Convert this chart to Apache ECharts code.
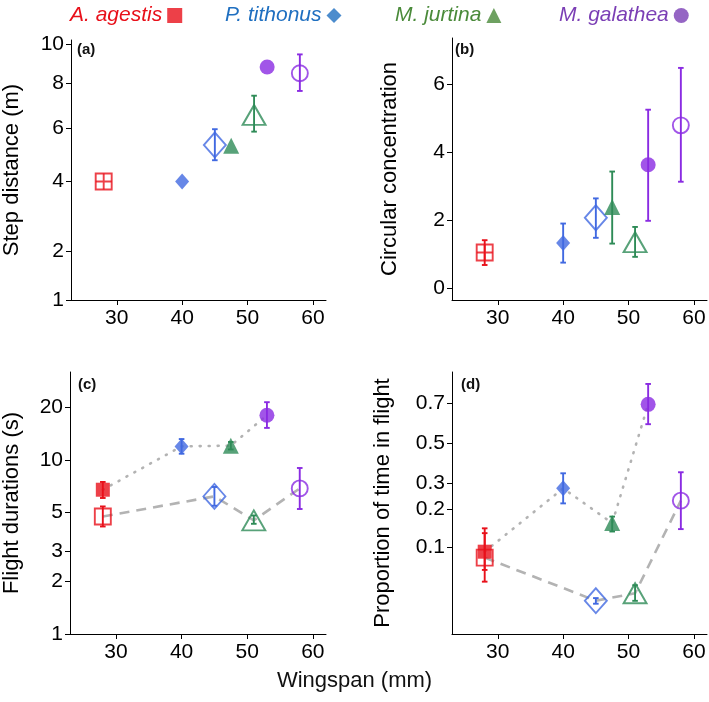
<!DOCTYPE html>
<html lang="en">
<head>
<meta charset="UTF-8">
<title>Wingspan vs movement</title>
<script src="https://cdn.jsdelivr.net/npm/echarts@6/dist/echarts.min.js"></script>
<style>
    html, body { margin: 0; padding: 0; background: #fff; }
    #main { width: 709px; height: 702px; }
</style>
</head>
<body>
<div id="main"></div>
<script>
var species = ['A. agestis', 'P. tithonus', 'M. jurtina', 'M. galathea'];
var markColors = ['#e8101a', '#4169e1', '#2e8b57', '#8a2be2'];
var legendColors = ['#e8101a', '#1f6fc0', '#4a8a3a', '#7b3fb5'];
var wingFilled = [28, 40, 47.5, 53];
var wingOpen = [28, 45, 51, 58];
var wingTicks = [30, 40, 50, 60];

// (a) step distance (m), sqrt axis
var stepTicks = [1, 2, 4, 6, 8, 10];
var stepFilled = [4.0, 4.0, 5.3, 8.8];
var stepFilledLo = [null, null, null, null];
var stepFilledHi = [null, null, null, null];
var stepOpen = [4.0, 5.33, 6.56, 8.49];
var stepOpenLo = [null, 4.75, 5.86, 7.64];
var stepOpenHi = [null, 5.96, 7.42, 9.44];

// (b) circular concentration, linear
var concTicks = [0, 2, 4, 6];
var concFilled = [1.06, 1.34, 2.4, 3.64];
var concFilledLo = [null, 0.76, 1.32, 1.99];
var concFilledHi = [null, 1.91, 3.44, 5.26];
var concOpen = [1.06, 2.08, 1.36, 4.80];
var concOpenLo = [0.69, 1.49, 0.93, 3.14];
var concOpenHi = [1.42, 2.65, 1.81, 6.49];

// (c) flight durations (s), log axis
var durTicks = [1, 2, 3, 5, 10, 20];
var durFilled = [6.75, 11.98, 12.1, 18.1];
var durFilledLo = [6.05, 10.87, 11.5, 15.3];
var durFilledHi = [7.48, 13.2, 12.7, 21.5];
var durOpen = [4.74, 6.18, 4.5, 6.87];
var durOpenLo = [4.15, 5.46, 4.3, 5.23];
var durOpenHi = [5.41, 7.0, 4.8, 9.0];

// (d) proportion of time in flight, logit axis
var propTicks = [0.1, 0.2, 0.3, 0.5, 0.7];
var propFilled = [0.0926, 0.279, 0.157, 0.694];
var propFilledLo = [0.065, 0.220, 0.135, 0.599];
var propFilledHi = [0.143, 0.347, 0.176, 0.777];
var propOpen = [0.0826, 0.0351, 0.0408, 0.230];
var propOpenLo = [0.0515, 0.033, 0.035, 0.141];
var propOpenHi = [0.131, 0.037, 0.048, 0.352];

var FONT = 'Liberation Sans, Arial, sans-serif';

function ident(v) { return v; }
function logit(p) { return Math.log(p / (1 - p)); }

var panels = [
    {f: Math.sqrt, min: 1, max: 3.194, ticks: stepTicks, name: 'Step distance (m)', gap: 48, tag: '(a)',
        grid: {left: 70, top: 40, width: 256, height: 260}, tagPos: [77, 42],
        filled: stepFilled, fLo: stepFilledLo, fHi: stepFilledHi, open: stepOpen, oLo: stepOpenLo, oHi: stepOpenHi, lines: false, plusRed: true},
    {f: ident, min: -0.34, max: 7.37, ticks: concTicks, name: 'Circular concentration', gap: 51, tag: '(b)',
        grid: {left: 452, top: 38, width: 255, height: 262}, tagPos: [455, 42],
        filled: concFilled, fLo: concFilledLo, fHi: concFilledHi, open: concOpen, oLo: concOpenLo, oHi: concOpenHi, lines: false, plusRed: true},
    {f: Math.log10, min: 0, max: 1.506, ticks: durTicks, name: 'Flight durations (s)', gap: 47, tag: '(c)',
        grid: {left: 70, top: 372, width: 256, height: 262}, tagPos: [78, 377],
        filled: durFilled, fLo: durFilledLo, fHi: durFilledHi, open: durOpen, oLo: durOpenLo, oHi: durOpenHi, lines: true, plusRed: false},
    {f: logit, min: -4.015, max: 1.50, ticks: propTicks, name: 'Proportion of time in flight', gap: 58, tag: '(d)',
        grid: {left: 452, top: 372, width: 255, height: 262}, tagPos: [461, 377],
        filled: propFilled, fLo: propFilledLo, fHi: propFilledHi, open: propOpen, oLo: propOpenLo, oHi: propOpenHi, lines: true, plusRed: false}
];

var filledSymbols = ['rect', 'diamond', 'triangle', 'circle'];
var filledSizes = [14, [14, 16], 16, 15];
var openSizes = [16, [22, 25], [23, 20], 16];
var plusPath = 'path://M0,5L10,5M5,0L5,10';
var legendLeft = [70, 225, 395, 559];

function errorSeries(gi, xs, lo, hi, f) {
    var data = [];
    xs.forEach(function (x, i) {
        if (lo[i] != null) data.push([x, f(lo[i]), f(hi[i]), i]);
    });
    return {
        type: 'custom', xAxisIndex: gi, yAxisIndex: gi, z: 3, silent: true,
        data: data,
        encode: {x: 0, y: [1, 2]},
        renderItem: function (params, api) {
            var x = api.value(0);
            var p1 = api.coord([x, api.value(1)]);
            var p2 = api.coord([x, api.value(2)]);
            var st = {stroke: markColors[api.value(3)], lineWidth: 1.9, fill: null};
            var w = 2.8;
            return {type: 'group', children: [
                {type: 'line', shape: {x1: p1[0], y1: p1[1], x2: p2[0], y2: p2[1]}, style: st},
                {type: 'line', shape: {x1: p1[0] - w, y1: p1[1], x2: p1[0] + w, y2: p1[1]}, style: st},
                {type: 'line', shape: {x1: p2[0] - w, y1: p2[1], x2: p2[0] + w, y2: p2[1]}, style: st}
            ]};
        }
    };
}

var grids = [], xAxes = [], yAxes = [], series = [], graphics = [];

panels.forEach(function (p, gi) {
    grids.push(p.grid);
    xAxes.push({
        gridIndex: gi, type: 'value', min: 23, max: 62,
        axisLine: {onZero: false, lineStyle: {color: '#000', width: 1}},
        axisTick: {customValues: wingTicks, length: 5, lineStyle: {color: '#000'}},
        axisLabel: {customValues: wingTicks, color: '#000', fontSize: 21, fontFamily: FONT, margin: 8},
        splitLine: {show: false}
    });
    var tv = p.ticks.map(p.f);
    yAxes.push({
        gridIndex: gi, type: 'value', min: p.min, max: p.max,
        name: p.name, nameLocation: 'middle', nameGap: p.gap,
        nameTextStyle: {fontSize: 22, color: '#000', fontFamily: FONT},
        axisLine: {show: true, onZero: false, lineStyle: {color: '#000', width: 1}},
        axisTick: {show: true, customValues: tv, length: 5, lineStyle: {color: '#000'}},
        axisLabel: {
            customValues: tv, color: '#000', fontSize: 21, fontFamily: FONT, margin: 7,
            formatter: function (v) {
                for (var k = 0; k < tv.length; k++) {
                    if (Math.abs(tv[k] - v) < 1e-6) return String(p.ticks[k]);
                }
                return '';
            }
        },
        splitLine: {show: false}
    });

    if (p.lines) {
        series.push({
            type: 'line', xAxisIndex: gi, yAxisIndex: gi, z: 1, silent: true, symbol: 'none',
            data: wingFilled.map(function (x, i) { return [x, p.f(p.filled[i])]; }),
            lineStyle: {color: '#b3b3b3', width: 2.6, type: [1, 8], cap: 'round'}
        });
        series.push({
            type: 'line', xAxisIndex: gi, yAxisIndex: gi, z: 1, silent: true, symbol: 'none',
            data: wingOpen.map(function (x, i) { return [x, p.f(p.open[i])]; }),
            lineStyle: {color: '#b3b3b3', width: 2.6, type: [10, 7]}
        });
    }

    series.push(errorSeries(gi, wingFilled, p.fLo, p.fHi, p.f));
    series.push(errorSeries(gi, wingOpen, p.oLo, p.oHi, p.f));

    species.forEach(function (sp, i) {
        var c = markColors[i];
        var plus = p.plusRed && i === 0;
        series.push({
            name: sp, type: 'scatter', xAxisIndex: gi, yAxisIndex: gi, z: 4, silent: true,
            symbol: plus ? plusPath : filledSymbols[i],
            symbolSize: plus ? 16 : filledSizes[i],
            itemStyle: plus ? {color: 'rgba(0,0,0,0)', borderColor: c, borderWidth: 1.9} : {color: c},
            data: [[wingFilled[i], p.f(p.filled[i])]]
        });
        series.push({
            name: sp + ' open', type: 'scatter', xAxisIndex: gi, yAxisIndex: gi, z: 4, silent: true,
            symbol: filledSymbols[i], symbolSize: openSizes[i],
            itemStyle: {color: 'rgba(0,0,0,0)', borderColor: c, borderWidth: 1.9},
            data: [[wingOpen[i], p.f(p.open[i])]]
        });
    });

    graphics.push({
        type: 'text', left: p.tagPos[0], top: p.tagPos[1],
        style: {text: p.tag, font: 'bold 15px ' + FONT, fill: '#111'}
    });
});

graphics.push({
    type: 'text', left: 'center', top: 670,
    style: {text: 'Wingspan (mm)', font: '22px ' + FONT, fill: '#111'}
});

var legends = species.map(function (sp, i) {
    return {
        left: legendLeft[i], top: 5, padding: 0, align: 'right', itemWidth: 15, itemHeight: 15,
        selectedMode: false,
        data: [{
            name: sp, icon: filledSymbols[i],
            itemStyle: {color: legendColors[i], borderWidth: 0},
            textStyle: {color: legendColors[i], fontStyle: 'italic', fontSize: 21, fontFamily: FONT}
        }]
    };
});

var chart = echarts.init(document.getElementById('main'));
chart.setOption({
    animation: false,
    backgroundColor: '#fff',
    legend: legends,
    grid: grids,
    xAxis: xAxes,
    yAxis: yAxes,
    graphic: graphics,
    series: series
});
</script>
</body>
</html>
